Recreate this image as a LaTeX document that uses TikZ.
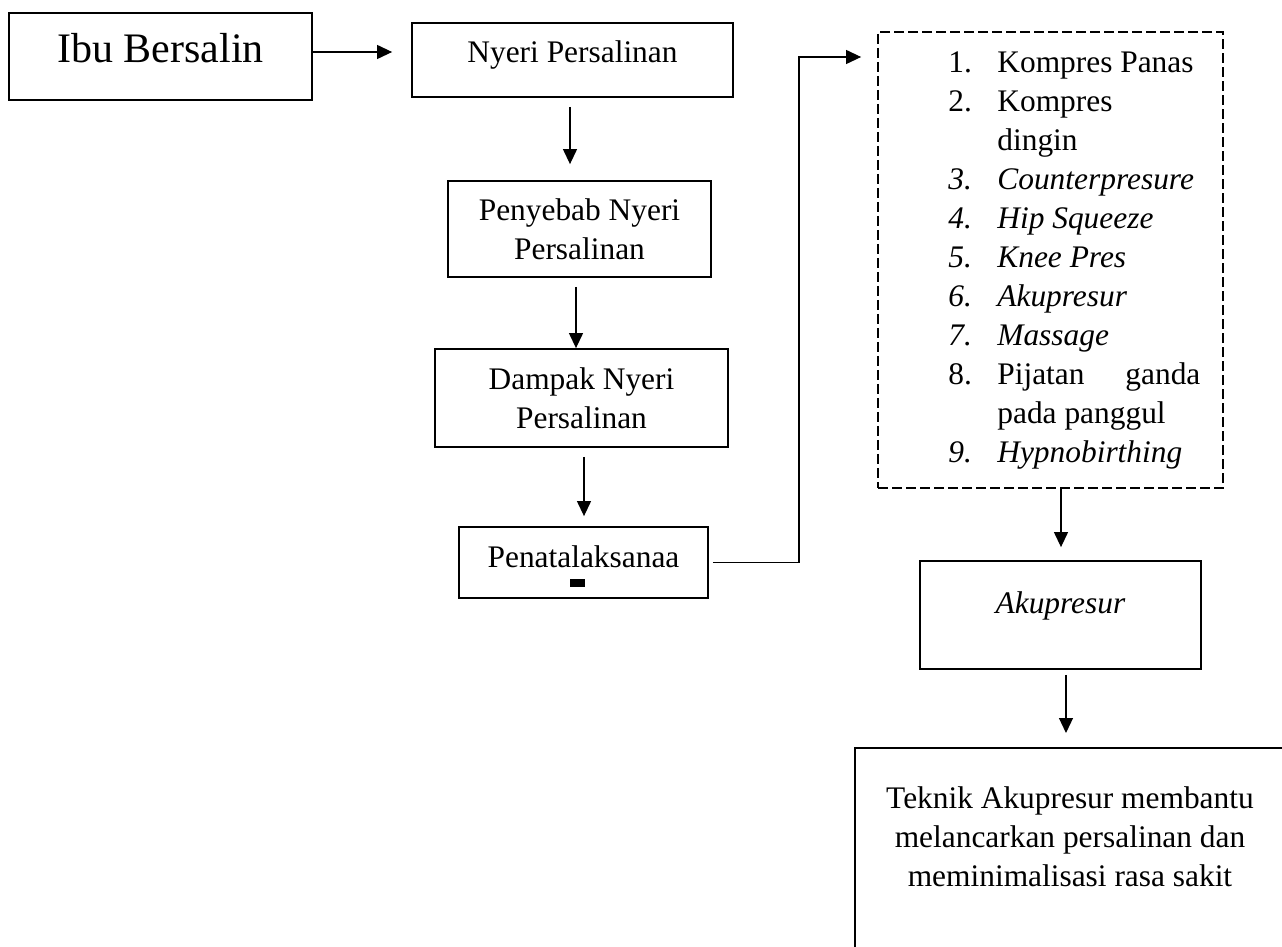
\documentclass[tikz,border=0pt]{standalone}
\usepackage{fontspec}
\setmainfont{Liberation Serif}
\usetikzlibrary{arrows.meta}

\begin{document}
\begin{tikzpicture}[x=0.5pt,y=-0.5pt,
  every node/.style={inner sep=0pt,font=\fontsize{15.7}{19.5}\selectfont},
  box/.style={draw,line width=0.9pt,align=center},
  dash box/.style={draw,line width=0.9pt,dash pattern=on 5pt off 2pt},
  arrow/.style={line width=0.6pt,-{Triangle[length=7.5pt,width=7pt]}},
  ]
  \clip (0,0) rectangle (1282,947);
  % left column
  \node[box,minimum width=151.5pt,minimum height=43.5pt,text height=15pt,text depth=8.5pt,
    font=\fontsize{21}{25}\selectfont] (ibu) at (160.5,56.5) {Ibu Bersalin};
  \node[box,minimum width=160.5pt,minimum height=37pt,text height=11pt,text depth=8pt]
    (nyeri) at (572.5,60) {Nyeri Persalinan};
  \node[box,minimum width=131.5pt,minimum height=48pt] (penyebab) at (579.5,229)
    {Penyebab Nyeri\\Persalinan};
  \node[box,minimum width=146.5pt,minimum height=49pt] (dampak) at (581.5,398)
    {Dampak Nyeri\\Persalinan};
  \node[box,minimum width=124.5pt,minimum height=35.5pt,text height=24.5pt,text depth=0pt]
    (penata) at (583.5,562.5)
    {Penatalaksanaa\\[-10pt]\rule{7.5pt}{4pt}\rule{6pt}{0pt}};
  % right column
  \node[dash box,minimum width=172.5pt,minimum height=228pt] (options) at (1050.5,260) {};
  \node[anchor=base west] (items) at (948,73) {%
    \begin{tabular}[t]{@{}p{24.5pt}@{}l@{}}
      1. & Kompres Panas\\
      2. & Kompres\\
         & dingin\\
      \textit{3.} & \textit{Counterpresure}\\
      \textit{4.} & \textit{Hip Squeeze}\\
      \textit{5.} & \textit{Knee Pres}\\
      \textit{6.} & \textit{Akupresur}\\
      \textit{7.} & \textit{Massage}\\
      8. & \makebox[101.5pt][s]{Pijatan ganda}\\
         & pada panggul\\
      \textit{9.} & \textit{Hypnobirthing}
    \end{tabular}};
  \node[box,minimum width=140.5pt,minimum height=54pt,text height=11pt,text depth=13pt]
    (akupresur) at (1060.5,615) {\textit{Akupresur}};
  \node[box,minimum width=216pt,minimum height=150pt,anchor=north west] (teknik) at (854,747) {};
  \node[align=center] (teknikText) at (1070,837)
    {Teknik Akupresur membantu\\melancarkan persalinan dan\\meminimalisasi rasa sakit};
  % connectors
  \coordinate (bend) at (799,57);
  \draw[arrow,shorten >=9.5pt] ([yshift=2.25pt]ibu.east) -- ([yshift=2.25pt]ibu.east -| nyeri.west);
  \draw[arrow,shorten <=4.5pt,shorten >=8pt] ([xshift=-1.25pt]nyeri.south)
    -- ([xshift=-1.25pt]nyeri.south |- penyebab.north);
  \draw[arrow,shorten <=4.5pt] ([xshift=-1.75pt]penyebab.south)
    -- ([xshift=-1.75pt]penyebab.south |- dampak.north);
  \draw[arrow,shorten <=4.5pt,shorten >=5pt] ([xshift=1.25pt]dampak.south)
    -- ([xshift=1.25pt]dampak.south |- penata.north);
  \draw[arrow,shorten <=2pt,shorten >=8pt] (penata.east) -| (bend) -- (bend -| options.west);
  \draw[arrow,shorten >=6.5pt] ([xshift=5.25pt]options.south)
    -- ([xshift=5.25pt]options.south |- akupresur.north);
  \draw[arrow,shorten <=2.5pt,shorten >=7pt] ([xshift=2.75pt]akupresur.south)
    -- ([xshift=2.75pt]akupresur.south |- teknik.north);
\end{tikzpicture}
\end{document}
